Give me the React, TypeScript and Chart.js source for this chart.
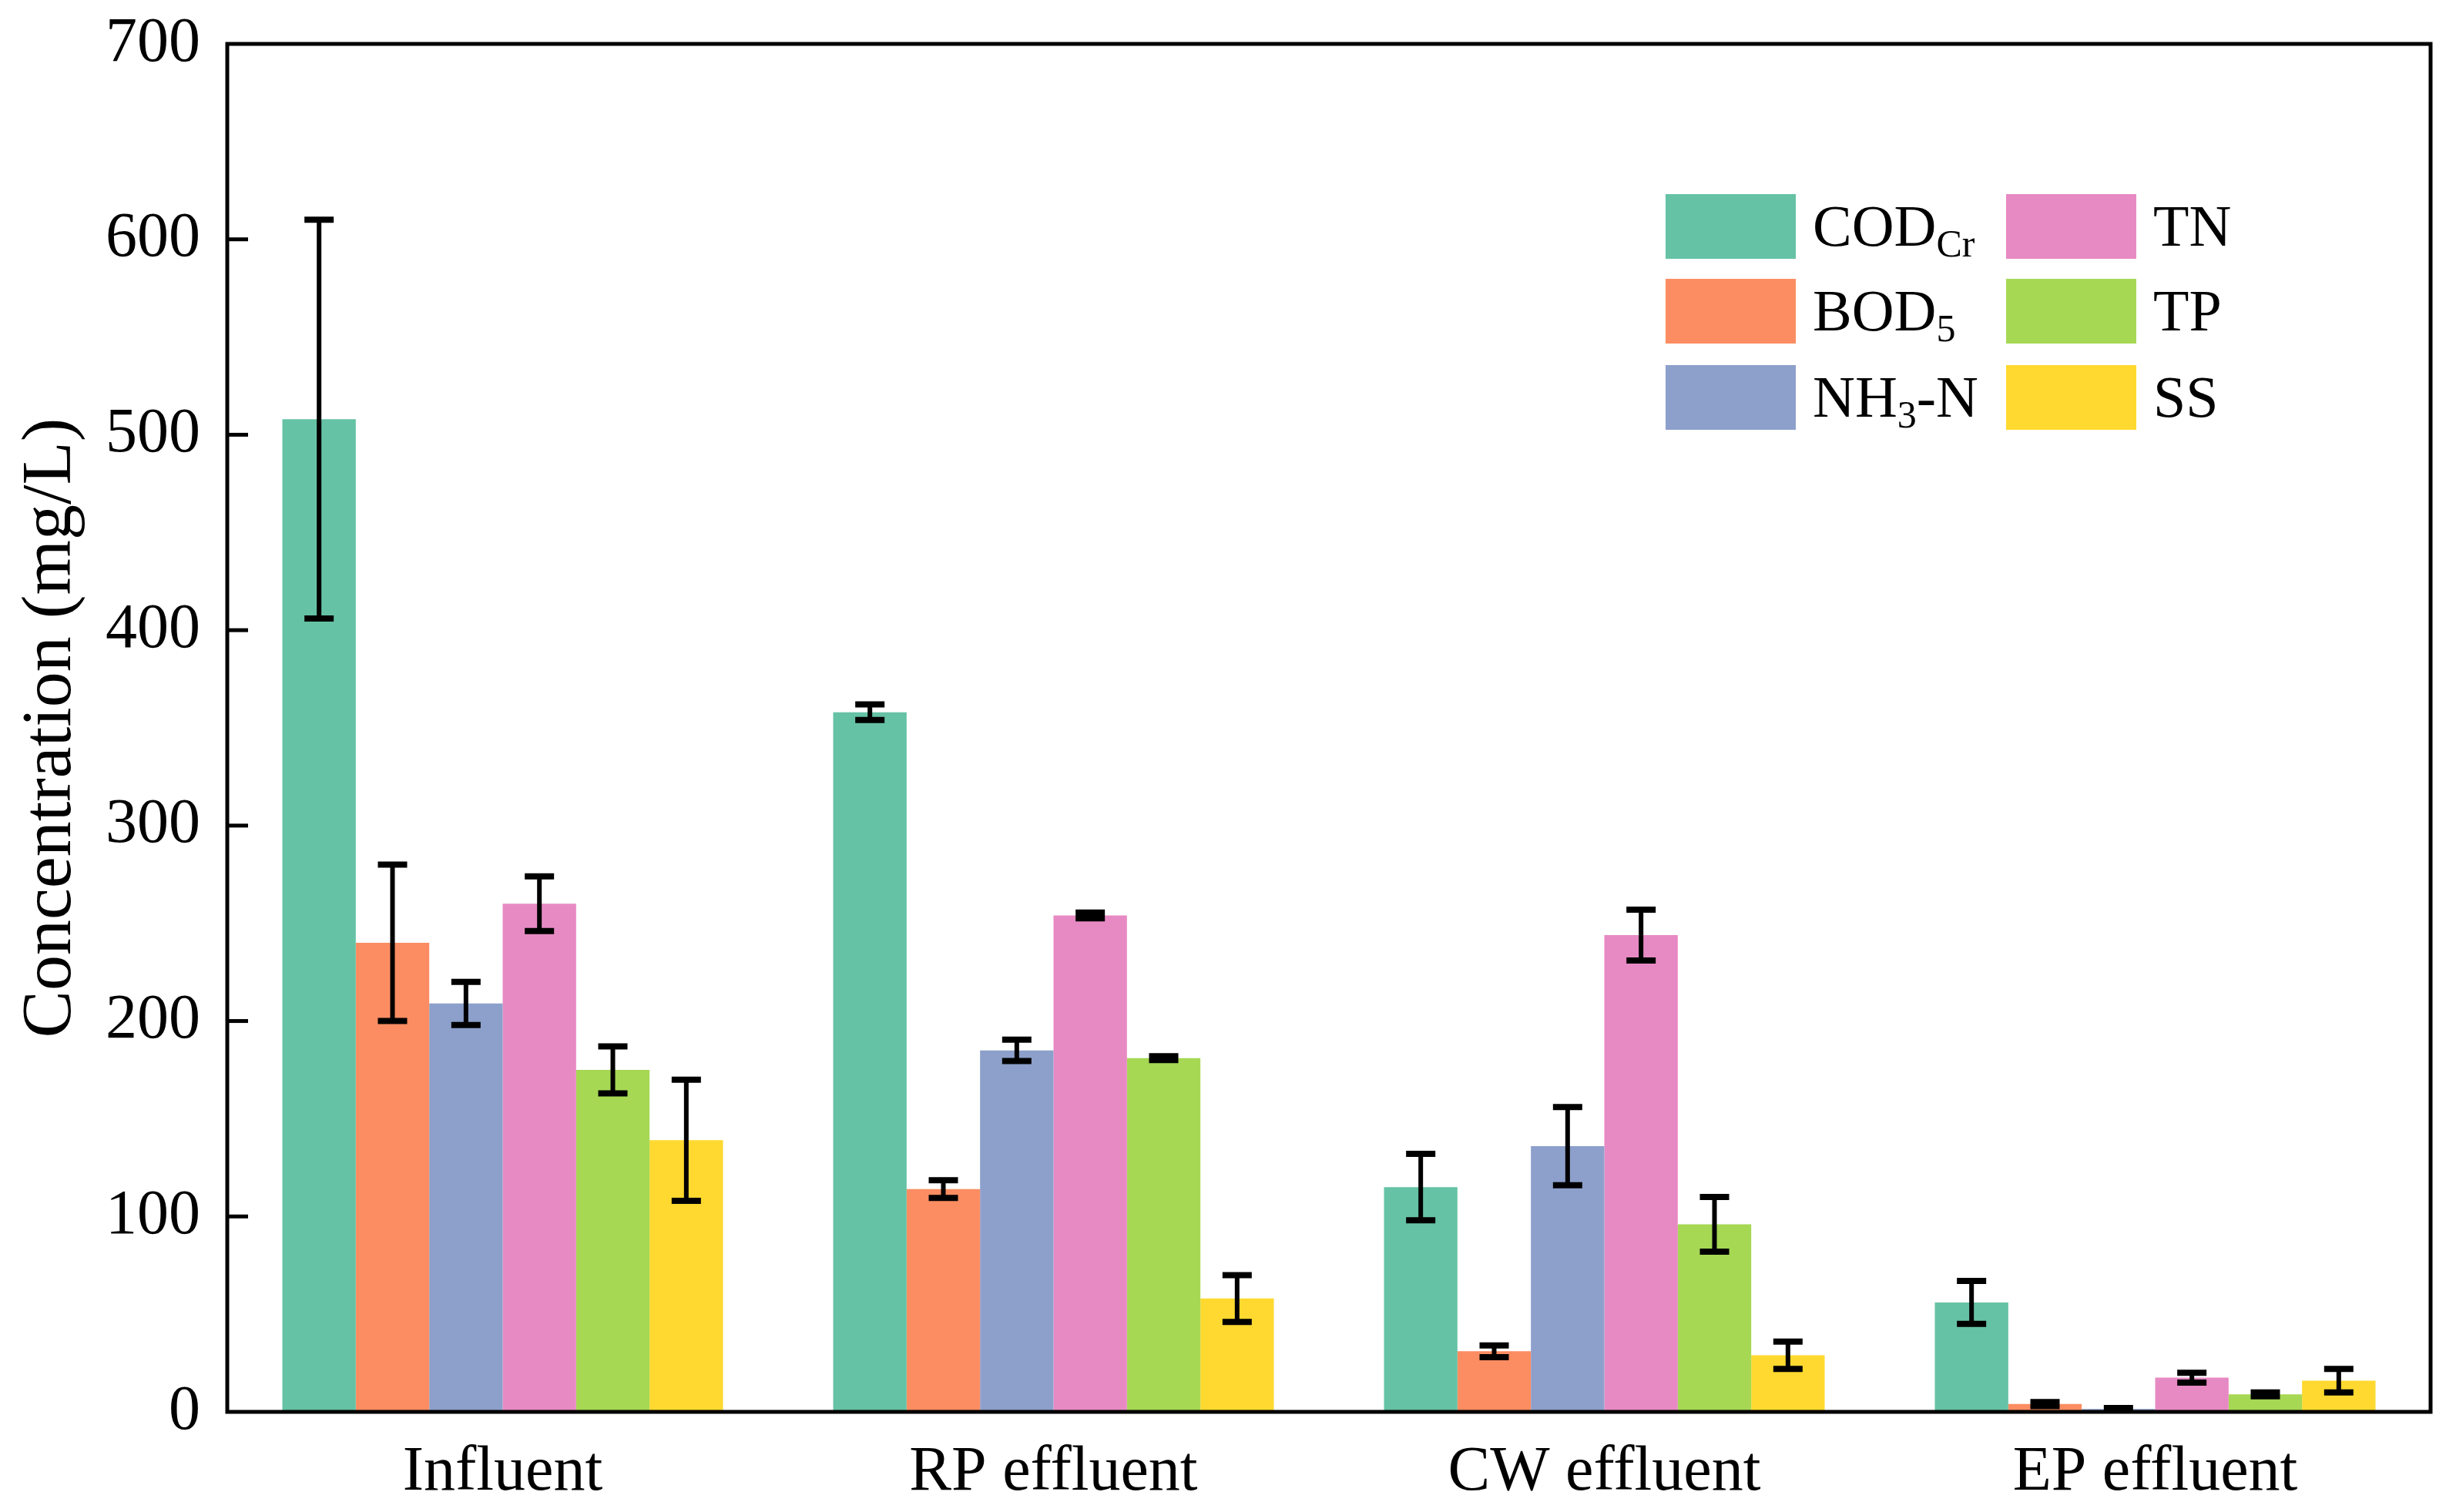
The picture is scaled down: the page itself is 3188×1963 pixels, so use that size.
import React, { useEffect, useRef } from "react";
import { Chart, registerables } from "chart.js";

Chart.register(...registerables);

const categories = ["Influent", "RP effluent", "CW effluent", "EP effluent"];
const seriesLabels = ["CODCr", "BOD5", "NH3-N", "TN", "TP", "SS"];
const legendBase = ["COD", "BOD", "NH", "TN", "TP", "SS"];
const legendSub = ["Cr", "5", "3", "", "", ""];
const legendTail = ["", "", "-N", "", "", ""];
const seriesColors = ["#66C2A5", "#FC8D62", "#8DA0CB", "#E78AC3", "#A6D854", "#FFD92F"];

const codValues = [508, 358, 115, 56];
const codErrors = [102, 4, 17, 11];
const bodValues = [240, 114, 31, 4];
const bodErrors = [40, 4.5, 3, 1];
const nh3Values = [209, 185, 136, 1.5];
const nh3Errors = [11, 5.5, 20, 0.5];
const tnValues = [260, 254, 244, 17.5];
const tnErrors = [14, 1.5, 13, 2.5];
const tpValues = [175, 181, 96, 9];
const tpErrors = [12, 1, 14, 1];
const ssValues = [139, 58, 29, 16];
const ssErrors = [31, 12, 7, 6];

const yTicks = [0, 100, 200, 300, 400, 500, 600, 700];

const allValues = [codValues, bodValues, nh3Values, tnValues, tpValues, ssValues];
const allErrors = [codErrors, bodErrors, nh3Errors, tnErrors, tpErrors, ssErrors];

const FONT = "'Liberation Serif', 'Times New Roman', serif";

const errorBarPlugin = {
  id: "errorBars",
  afterDatasetsDraw(chart: any) {
    const ctx = chart.ctx;
    const y = chart.scales.y;
    ctx.save();
    ctx.strokeStyle = "#000";
    chart.data.datasets.forEach((ds: any, i: number) => {
      const meta = chart.getDatasetMeta(i);
      meta.data.forEach((el: any, j: number) => {
        const v = ds.data[j];
        const e = ds.errors[j];
        const top = y.getPixelForValue(v + e);
        const bot = y.getPixelForValue(Math.max(v - e, 0));
        const x = el.x;
        ctx.lineWidth = 6;
        ctx.beginPath();
        ctx.moveTo(x, top);
        ctx.lineTo(x, bot);
        ctx.stroke();
        ctx.lineWidth = 8;
        ctx.beginPath();
        ctx.moveTo(x - 19, top);
        ctx.lineTo(x + 19, top);
        ctx.moveTo(x - 19, bot);
        ctx.lineTo(x + 19, bot);
        ctx.stroke();
      });
    });
    ctx.restore();
  },
};

const framePlugin = {
  id: "frame",
  afterDraw(chart: any) {
    const ctx = chart.ctx;
    const a = chart.chartArea;
    const y = chart.scales.y;
    ctx.save();
    ctx.strokeStyle = "#000";
    ctx.lineWidth = 5;
    ctx.strokeRect(a.left, a.top, a.right - a.left, a.bottom - a.top);
    y.ticks.forEach((t: any) => {
      if (t.value > y.min && t.value < y.max) {
        const py = y.getPixelForValue(t.value);
        ctx.beginPath();
        ctx.moveTo(a.left, py);
        ctx.lineTo(a.left + 27, py);
        ctx.stroke();
      }
    });
    // legend
    const sw = 169;
    const sh = 84;
    const colX = [a.left + 1867, a.left + 2309];
    const rowY = [a.top + 195, a.top + 305, a.top + 417];
    for (let i = 0; i < legendBase.length; i++) {
      const c = Math.floor(i / 3);
      const r = i % 3;
      const x = colX[c];
      const yy = rowY[r];
      ctx.fillStyle = seriesColors[i];
      ctx.fillRect(x, yy, sw, sh);
      ctx.fillStyle = "#000";
      ctx.textBaseline = "alphabetic";
      ctx.textAlign = "left";
      const base = yy + sh / 2 + 25;
      let tx = x + 191;
      ctx.font = `76px ${FONT}`;
      ctx.fillText(legendBase[i], tx, base);
      tx += ctx.measureText(legendBase[i]).width;
      if (legendSub[i]) {
        ctx.font = `50px ${FONT}`;
        ctx.fillText(legendSub[i], tx, base + 14);
        tx += ctx.measureText(legendSub[i]).width;
      }
      if (legendTail[i]) {
        ctx.font = `76px ${FONT}`;
        ctx.fillText(legendTail[i], tx, base);
      }
    }
    ctx.restore();
  },
};

export default function App() {
  const canvasRef = useRef<HTMLCanvasElement | null>(null);

  useEffect(() => {
    if (!canvasRef.current) return;
    const chart = new Chart(canvasRef.current, {
      type: "bar",
      data: {
        labels: categories,
        datasets: seriesLabels.map((label, i) => ({
          label,
          data: allValues[i],
          errors: allErrors[i],
          backgroundColor: seriesColors[i],
          borderWidth: 0,
          categoryPercentage: 0.8,
          barPercentage: 1.0,
        })) as any,
      },
      options: {
        animation: false,
        responsive: true,
        maintainAspectRatio: false,
        layout: { padding: { top: 57, right: 33, left: 0, bottom: 0 } },
        plugins: {
          legend: { display: false },
          tooltip: { enabled: false },
        },
        scales: {
          x: {
            grid: { display: false, drawTicks: false },
            border: { display: false },
            ticks: {
              color: "#000",
              padding: 30,
              font: { family: FONT, size: 82 },
            },
            afterFit: (s: any) => {
              s.height = 130;
              s.paddingLeft = 0;
              s.paddingRight = 0;
            },
          },
          y: {
            min: 0,
            max: 700,
            afterBuildTicks: (s: any) => {
              s.ticks = yTicks.map((v) => ({ value: v }));
            },
            grid: { display: false, drawTicks: false },
            border: { display: false },
            ticks: {
              color: "#000",
              padding: 35,
              font: { family: FONT, size: 82 },
            },
            title: {
              display: true,
              text: "Concentration (mg/L)",
              color: "#000",
              font: { family: FONT, size: 92 },
              padding: { top: 12, bottom: 0 },
            },
            afterFit: (s: any) => {
              s.width = 295;
              s.paddingTop = 0;
              s.paddingBottom = 0;
            },
          },
        },
      },
      plugins: [errorBarPlugin, framePlugin],
    } as any);
    return () => chart.destroy();
  }, []);

  return (
    <div style={{ position: "fixed", left: 0, top: 0, width: "3188px", height: "1963px", background: "#fff" }}>
      <canvas ref={canvasRef} />
    </div>
  );
}
